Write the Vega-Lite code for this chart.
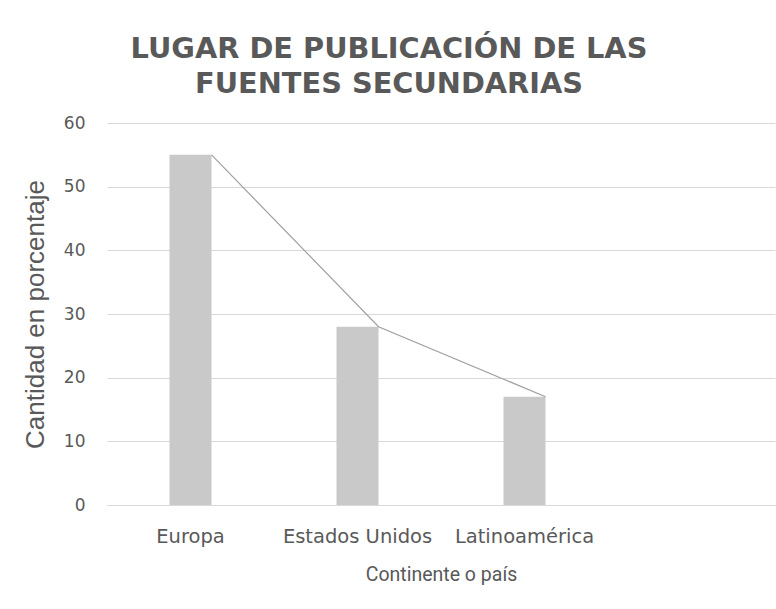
{
  "$schema": "https://vega.github.io/schema/vega-lite/v6.json",
  "autosize": "none",
  "width": 668,
  "height": 382,
  "padding": {"left": 107, "top": 123, "right": 1, "bottom": 104},
  "background": "#ffffff",
  "title": {
    "text": ["LUGAR DE PUBLICACIÓN DE LAS", "FUENTES SECUNDARIAS"],
    "font": "DejaVu Sans",
    "fontSize": 28.8,
    "fontWeight": "bold",
    "color": "#595959",
    "lineHeight": 35,
    "anchor": "middle",
    "dx": -52,
    "offset": 15
  },
  "data": {
    "values": [
      {"lugar": "Europa", "porcentaje": 55},
      {"lugar": "Estados Unidos", "porcentaje": 28},
      {"lugar": "Latinoamérica", "porcentaje": 17}
    ]
  },
  "config": {
    "view": {"stroke": null},
    "axis": {
      "labelColor": "#595959",
      "titleColor": "#595959",
      "labelFont": "DejaVu Sans",
      "labelFontSize": 16,
      "titleFontWeight": "normal",
      "ticks": false
    }
  },
  "layer": [
    {
      "mark": {"type": "bar", "color": "#c9c9c9", "size": 42},
      "encoding": {
        "x": {
          "field": "lugar",
          "type": "nominal",
          "sort": null,
          "scale": {"domain": ["Europa", "Estados Unidos", "Latinoamérica", ""], "paddingInner": 0, "paddingOuter": 0},
          "axis": {
            "title": "Continente o país",
            "titleFont": "Roboto",
            "titleFontSize": 19.5,
            "titlePadding": 20,
            "labelAngle": 0,
            "labelPadding": 22,
            "labelFontSize": 19.5,
            "domainColor": "#d9d9d9",
            "grid": false
          }
        },
        "y": {
          "field": "porcentaje",
          "type": "quantitative",
          "scale": {"domain": [0, 60]},
          "axis": {
            "title": "Cantidad en porcentaje",
            "titleFont": "Liberation Sans",
            "titleFontSize": 26,
            "titlePadding": 15,
            "values": [0, 10, 20, 30, 40, 50, 60],
            "labelPadding": 22,
            "labelFontSize": 17,
            "domain": false,
            "gridColor": "#d9d9d9"
          }
        }
      }
    },
    {
      "mark": {"type": "line", "color": "#a0a0a0", "strokeWidth": 1.2},
      "encoding": {
        "x": {"field": "lugar", "type": "nominal", "sort": null, "bandPosition": 0.626},
        "y": {"field": "porcentaje", "type": "quantitative"}
      }
    }
  ]
}
